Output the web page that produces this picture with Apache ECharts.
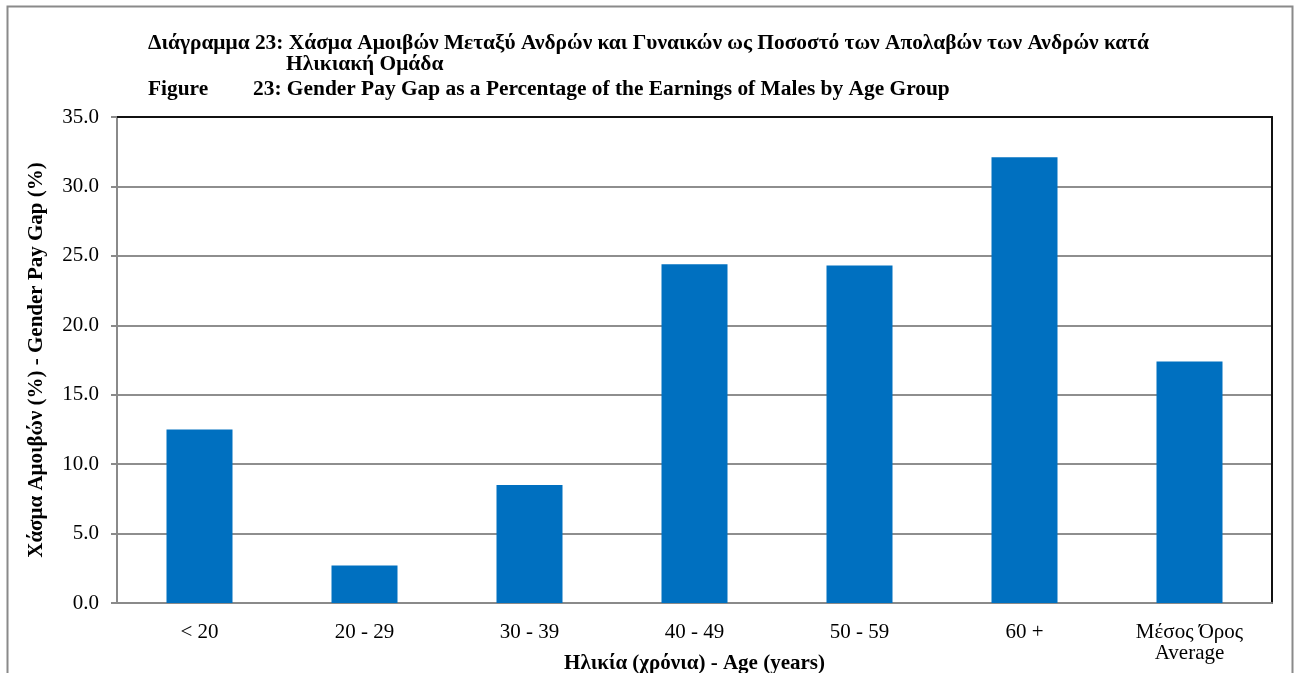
<!DOCTYPE html>
<html><head><meta charset="utf-8">
<script src="https://cdn.jsdelivr.net/npm/echarts@6/dist/echarts.min.js"></script>
<style>html,body{margin:0;padding:0;background:#fff}#c{width:1295px;height:673px}</style>
</head><body><div id="c"></div>
<script>
const categories = ['< 20', '20 - 29', '30 - 39', '40 - 49', '50 - 59', '60 +', 'Μέσος Όρος\nAverage'];
const payGap = [12.5, 2.7, 8.5, 24.4, 24.3, 32.1, 17.4];
const yTicks = { min: 0, max: 35, interval: 5 };
const titleGreek = 'Διάγραμμα 23: Χάσμα Αμοιβών Μεταξύ Ανδρών και Γυναικών ως Ποσοστό των Απολαβών των Ανδρών κατά';
const titleGreek2 = 'Ηλικιακή Ομάδα';
const titleEnLabel = 'Figure';
const titleEn = '23: Gender Pay Gap as a Percentage of the Earnings of Males by Age Group';
const xName = 'Ηλικία (χρόνια) - Age (years)';
const yName = 'Χάσμα Αμοιβών (%) - Gender Pay Gap (%)';

const FONT = '"Liberation Serif", "Times New Roman", serif';
const chart = echarts.init(document.getElementById('c'), null, {renderer: 'canvas'});
const tStyle = {fontFamily: FONT, fontWeight: 'bold', fontSize: 21.4, fill: '#000'};
chart.setOption({
  animation: false,
  backgroundColor: '#fff',
  graphic: [
    {type: 'rect', left: 5, top: 4, shape: {width: 1285, height: 700}, style: {fill: 'none', stroke: '#8a8a8a', lineWidth: 2}, silent: true},
    {type: 'text', left: 148, top: 33, style: Object.assign({text: titleGreek}, tStyle)},
    {type: 'text', left: 286, top: 54, style: Object.assign({text: titleGreek2}, tStyle)},
    {type: 'text', left: 148, top: 79, style: Object.assign({text: titleEnLabel}, tStyle)},
    {type: 'text', left: 253, top: 79, style: Object.assign({text: titleEn}, tStyle)}
  ],
  grid: {left: 117, right: 23, top: 117, bottom: 70, containLabel: false, outerBoundsMode: 'none'},
  xAxis: [
    {type: 'category', data: categories, position: 'bottom',
     axisLine: {show: true, lineStyle: {color: '#8a8a8a', width: 2}},
     axisTick: {show: false},
     axisLabel: {fontFamily: FONT, fontSize: 21, color: '#000', margin: 19, lineHeight: 21, interval: 0},
     name: xName, nameLocation: 'middle', nameGap: 50, nameMoveOverlap: false,
     nameTextStyle: {fontFamily: FONT, fontSize: 21, fontWeight: 'bold', color: '#000'}},
    {type: 'category', data: categories, position: 'top',
     axisLine: {show: true, onZero: false, lineStyle: {color: '#111', width: 2}},
     axisTick: {show: false}, axisLabel: {show: false}}
  ],
  yAxis: [
    {type: 'value', min: yTicks.min, max: yTicks.max, interval: yTicks.interval, position: 'left',
     axisLine: {show: true, lineStyle: {color: '#8a8a8a', width: 2}},
     axisTick: {show: true, length: 6, lineStyle: {color: '#8a8a8a', width: 2}},
     splitLine: {show: true, lineStyle: {color: '#8e8e8e', width: 2}},
     axisLabel: {fontFamily: FONT, fontSize: 21, color: '#000', margin: 18, formatter: v => v.toFixed(1)},
     name: yName, nameLocation: 'middle', nameGap: 70, nameRotate: 90, nameMoveOverlap: false,
     nameTextStyle: {fontFamily: FONT, fontSize: 21, fontWeight: 'bold', color: '#000'}},
    {type: 'value', min: yTicks.min, max: yTicks.max, interval: yTicks.interval, position: 'right',
     axisLine: {show: true, onZero: false, lineStyle: {color: '#111', width: 2}},
     axisTick: {show: false}, axisLabel: {show: false}, splitLine: {show: false}}
  ],
  series: [{
    type: 'bar', data: payGap, barWidth: '40%', xAxisIndex: 0, yAxisIndex: 0,
    itemStyle: {color: '#0070C0'}
  }]
});
</script></body></html>
